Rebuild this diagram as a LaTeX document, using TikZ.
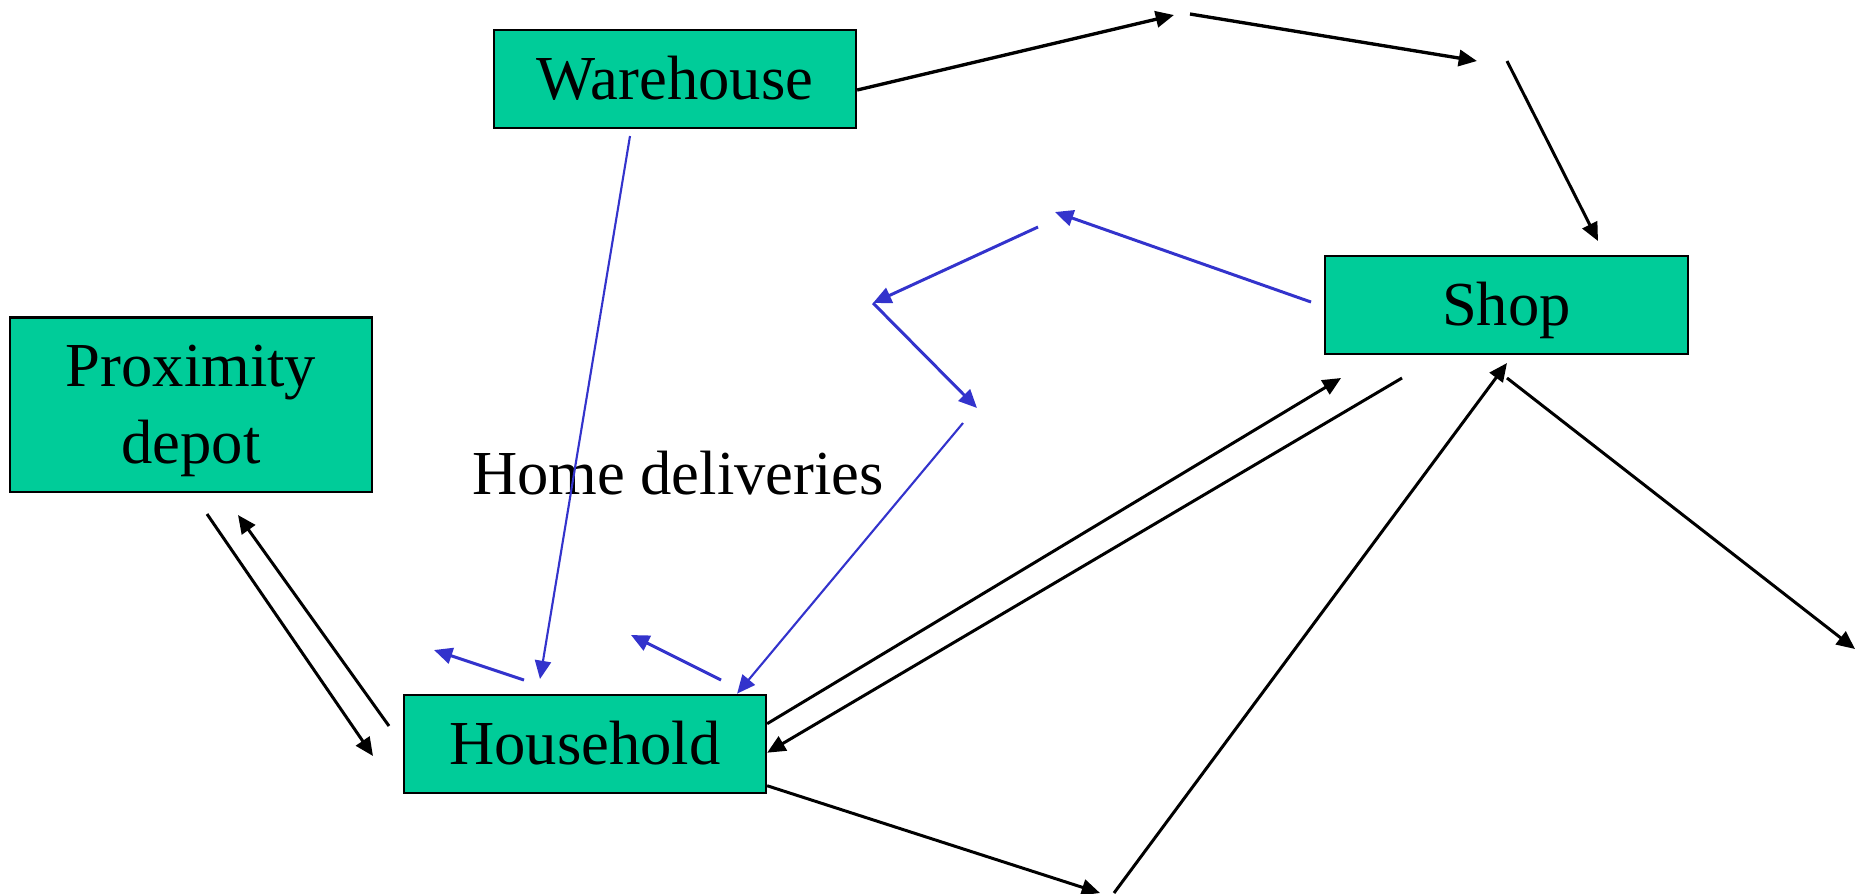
\documentclass[tikz,border=0pt]{standalone}
\usepackage{fontspec}
\setmainfont{Liberation Serif}
\usetikzlibrary{arrows.meta}

\definecolor{boxgreen}{RGB}{0,204,153}
\definecolor{flowblue}{RGB}{51,51,204}

\tikzset{
  place/.style={draw=black, line width=0.6pt, fill=boxgreen,
    minimum width=3.62cm, minimum height=0.98cm, inner sep=0pt,
    font=\fontsize{17.8}{20.8}\selectfont},
  oneline/.style={text height=11.8pt, text depth=0pt},
  flow/.style={-{Triangle[length=5.2pt,width=4.6pt]}, line width=0.85pt},
  thinflow/.style={flow, line width=0.6pt},
}

\begin{document}
\begin{tikzpicture}[x=0.01cm, y=-0.01cm]
      \useasboundingbox (0,0) rectangle (1857,893);

      % PLACES
      \node[place, oneline] (wh) at (675,79) {Warehouse};
      \node[place, oneline] (shop) at (1506.5,305) {Shop};
      \node[place, minimum height=1.74cm, align=center] (depot) at (191,404.5) {\rule{0pt}{15.6pt}Proximity\\[1pt]depot};
      \node[place, oneline] (hh) at (585,743.7) {Household};
      \node[font=\fontsize{17.8}{20.8}\selectfont, anchor=base] (hd) at (678,494) {Home deliveries};

      % FREE ENDS
      \coordinate (a1) at (1174,15);
      \coordinate (a2) at (1190,14);
      \coordinate (a3) at (1477,61);
      \coordinate (a4) at (1507,61);
      \coordinate (a5) at (1598,241);
      \coordinate (a6) at (1507,378);
      \coordinate (a7) at (1855,649);
      \coordinate (a8) at (1114,893);
      \coordinate (a9) at (1507,363);
      \coordinate (a10) at (1100,893);
      \coordinate (a11) at (1341,378);
      \coordinate (a12) at (1402,378);
      \coordinate (a13) at (207,514);
      \coordinate (a14) at (373,756);
      \coordinate (a15) at (389,726);
      \coordinate (a16) at (238,515);

      \coordinate (b1) at (630,136);
      \coordinate (b2) at (540,679);
      \coordinate (b3) at (1311,302);
      \coordinate (b4) at (1055,212);
      \coordinate (b5) at (1038,227);
      \coordinate (b6) at (873,303);
      \coordinate (b7) at (977,408);
      \coordinate (b8) at (963,423);
      \coordinate (b9) at (524,680);
      \coordinate (b10) at (434,650);
      \coordinate (b11) at (721,680);
      \coordinate (b12) at (631,635);

      % BLACK ARROWS
      \draw[flow, line width=0.95pt] ([yshift=-0.11cm]wh.east) -- (a1);
      \draw[flow, line width=0.95pt] (a2) -- (a3);
      \draw[flow] (a4) -- (a5);
      \draw[flow] (a6) -- (a7);
      \draw[flow] (a8) -- (a9);
      \draw[flow] ([yshift=-0.42cm]hh.east) -- (a10);
      \draw[flow] ([yshift=0.2cm]hh.east) -- (a11);
      \draw[flow] (a12) -- ([yshift=-0.09cm]hh.east);
      \draw[flow] (a13) -- (a14);
      \draw[flow] (a15) -- (a16);

      % BLUE ARROWS
      \begin{scope}[flowblue]
      \draw[thinflow] (b1) -- (b2);
      \draw[flow] (b3) -- (b4);
      \draw[flow] (b5) -- (b6);
      \draw[flow] (b6) -- (b7);
      \draw[thinflow] (b8) -- ([xshift=1.52cm]hh.north);
      \draw[flow] (b9) -- (b10);
      \draw[flow] (b11) -- (b12);
      \end{scope}
\end{tikzpicture}
\end{document}
